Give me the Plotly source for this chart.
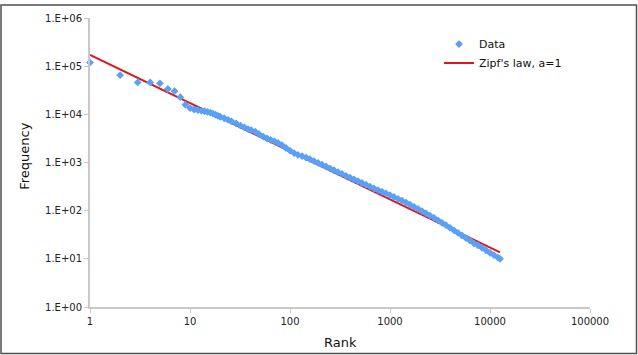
import plotly.graph_objects as go

# Data series (rank, frequency)
data_rank = [1, 2, 3, 4, 5, 6, 7, 8, 9, 10, 11, 12, 13, 14, 15, 16, 17, 18, 19, 20,
             22, 24, 26, 29, 32, 35, 38, 41, 45, 49, 54, 59, 64, 70, 76, 83, 91,
             100, 110, 120, 132, 145, 158, 174, 191, 209, 229, 251, 275, 302, 331,
             363, 398, 437, 479, 525, 575, 631, 692, 759, 832, 912, 1000, 1096,
             1202, 1318, 1445, 1585, 1738, 1905, 2089, 2291, 2512, 2754, 3020,
             3311, 3631, 3981, 4365, 4786, 5248, 5754, 6310, 6918, 7586, 8318,
             9120, 10000, 10965, 12023, 12600]
data_freq = [119000, 65000, 46000, 46000, 44000, 33600, 30200, 22700, 15800, 13500,
             12600, 12200, 11900, 11600, 11200, 10800, 10300, 9800, 9300, 8900,
             8300, 7700, 7150, 6450, 5850, 5350, 4950, 4700, 4350, 3900, 3450, 3150,
             2950, 2750, 2550, 2300, 2000,
             1760, 1560, 1440, 1360, 1260, 1170, 1070, 980, 900, 825, 755, 690, 630,
             578, 530, 485, 445, 408, 375, 345, 316, 290, 268, 247, 228, 210, 193,
             176, 161, 147, 134, 120, 109, 98, 88, 79, 71, 63,
             56, 50, 44, 39, 34.5, 30.5, 27, 24, 21, 19, 17,
             15, 13.3, 11.9, 10.6, 10]

# Zipf's law line (a=1) end points
zipf_rank = [1, 12600]
zipf_freq = [171000, 13.6]

x_tickvals = [1, 10, 100, 1000, 10000, 100000]
x_ticktext = ["1", "10", "100", "1000", "10000", "100000"]
y_tickvals = [1, 10, 100, 1000, 10000, 100000, 1000000]
y_ticktext = ["1.E+00", "1.E+01", "1.E+02", "1.E+03", "1.E+04", "1.E+05", "1.E+06"]

FONT = "DejaVu Sans"
AXIS_COLOR = "#c8c8c8"

fig = go.Figure()
fig.add_trace(go.Scatter(
    x=zipf_rank, y=zipf_freq, mode="lines", name="Zipf's law, a=1",
    line=dict(color="#e0161b", width=2), legendrank=2,
))
fig.add_trace(go.Scatter(
    x=data_rank, y=data_freq, mode="markers", name="Data",
    marker=dict(symbol="diamond", size=6, color="#5aa0f5", line=dict(width=0)),
    cliponaxis=False, legendrank=1,
))

fig.update_layout(
    width=638, height=355,
    margin=dict(l=90, r=48, t=15, b=48),
    paper_bgcolor="white", plot_bgcolor="white",
    font=dict(family=FONT, size=10, color="#222222"),
    showlegend=True,
    legend=dict(x=0.698, y=0.96, xanchor="left", yanchor="top",
                font=dict(family=FONT, size=11, color="#111111"),
                bgcolor="rgba(0,0,0,0)", tracegroupgap=0, itemwidth=30),
    xaxis=dict(type="log", range=[0, 5], tickvals=x_tickvals, ticktext=x_ticktext,
               showgrid=False, zeroline=False, showline=True, linecolor=AXIS_COLOR,
               linewidth=2, ticks="outside", ticklen=4, tickcolor=AXIS_COLOR,
               tickfont=dict(family=FONT, size=10, color="#222222")),
    yaxis=dict(type="log", range=[0, 6], tickvals=y_tickvals, ticktext=y_ticktext,
               showgrid=False, zeroline=False, showline=True, linecolor=AXIS_COLOR,
               linewidth=2, ticks="outside", ticklen=4, tickcolor=AXIS_COLOR,
               tickfont=dict(family=FONT, size=10, color="#222222")),
    annotations=[
        dict(text="Rank", xref="paper", yref="paper", x=0.5, y=-0.123,
             xanchor="center", yanchor="middle", showarrow=False,
             font=dict(family=FONT, size=13, color="#111111")),
        dict(text="Frequency", xref="paper", yref="paper", x=-0.13, y=0.52,
             xanchor="center", yanchor="middle", showarrow=False, textangle=-90,
             font=dict(family=FONT, size=13, color="#111111")),
    ],
    shapes=[
        dict(type="rect", xref="paper", yref="paper",
             x0=-0.178, x1=1.093, y0=-0.161, y1=1.045,
             line=dict(color="#505050", width=1.5), fillcolor="rgba(0,0,0,0)",
             layer="below"),
    ],
)

fig.write_html("out.html",
               config={"displayModeBar": False},
               post_script="document.body.style.margin='0';document.body.style.padding='0';")
